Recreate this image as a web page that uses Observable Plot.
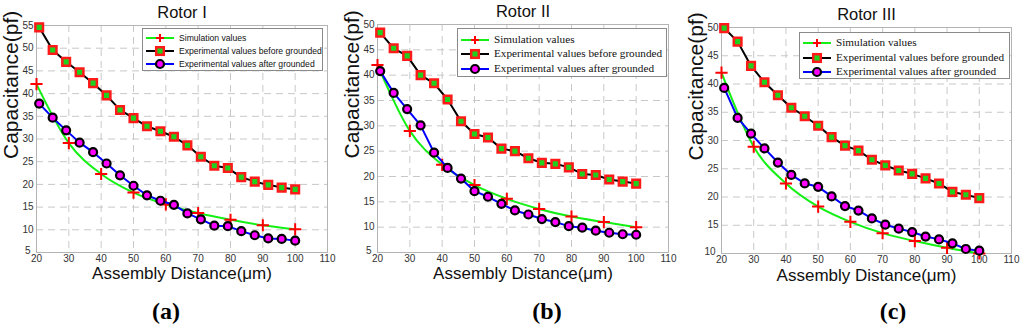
<!DOCTYPE html>
<html><head><meta charset="utf-8">
<script src="https://cdn.jsdelivr.net/npm/d3@7"></script>
<script src="https://cdn.jsdelivr.net/npm/@observablehq/plot@0.6"></script>
<style>
body{margin:0;background:#fff;}
#root{position:relative;width:1024px;height:331px;overflow:hidden;font-family:Arial,"Liberation Sans",sans-serif;}
.panel{position:absolute;top:0;}
.panel svg{overflow:visible;display:block;max-width:none;}
.legend{position:absolute;background:#fff;border:1px solid #8a8a8a;box-sizing:border-box;}
.legend .row{position:absolute;display:flex;align-items:center;white-space:nowrap;line-height:1;}
.legend .row svg{flex:none;display:block;}
.cap{position:absolute;font-family:"Liberation Serif","Times New Roman",serif;font-weight:bold;font-size:24px;transform:translate(-50%,-50%);line-height:1;}
</style></head>
<body><div id="root"></div>
<script>
// ---- data ----
const titles = ["Rotor I", "Rotor II", "Rotor III"];
const captions = ["(a)", "(b)", "(c)"];
const xLabel = "Assembly Distance(\u03bcm)";
const yLabel = "Capacitance(pf)";
const seriesNames = ["Simulation values", "Experimental values before grounded", "Experimental values after grounded"];
const xTicks = [20, 30, 40, 50, 60, 70, 80, 90, 100, 110];
const yTicksA = [5, 10, 15, 20, 25, 30, 35, 40, 45, 50, 55];
const yTicksB = [5, 10, 15, 20, 25, 30, 35, 40, 45, 50];
const yTicksC = [10, 15, 20, 25, 30, 35, 40, 45, 50];

const xSim = [20, 30, 40, 50, 60, 70, 80, 90, 100];
const xExp = [20.83, 25, 29.17, 33.33, 37.5, 41.67, 45.83, 50, 54.17, 58.33, 62.5, 66.67, 70.83, 75, 79.17, 83.33, 87.5, 91.67, 95.83, 100];

const simA = [42.1, 29.1, 22.3, 18.2, 15.6, 13.7, 12.2, 11.0, 10.1];
const beforeA = [54.6, 49.6, 47.0, 44.7, 42.3, 39.6, 36.4, 34.6, 32.8, 31.7, 30.5, 28.6, 26.1, 24.1, 23.6, 21.6, 20.6, 19.9, 19.3, 18.9];
const afterA = [37.8, 34.7, 31.9, 29.2, 27.1, 24.6, 22.0, 19.7, 17.6, 16.4, 15.5, 13.6, 12.3, 10.9, 10.8, 9.7, 8.8, 8.1, 8.0, 7.6];

const simB = [42.0, 29.0, 22.3, 18.3, 15.6, 13.6, 12.1, 11.0, 10.0];
const beforeB = [48.4, 45.3, 43.8, 40.0, 38.4, 35.2, 30.9, 28.4, 27.7, 25.5, 25.0, 23.6, 22.7, 22.5, 21.8, 20.5, 20.3, 19.4, 19.0, 18.6];
const afterB = [40.8, 36.5, 33.3, 30.1, 24.7, 21.7, 19.6, 17.1, 16.0, 14.6, 13.3, 12.5, 11.6, 11.0, 10.2, 9.9, 9.3, 8.9, 8.6, 8.5];

const simC = [42.0, 28.9, 22.4, 18.3, 15.6, 13.6, 12.2, 11.0, 10.0];
const beforeC = [49.9, 47.5, 43.2, 40.3, 38.0, 35.8, 34.3, 32.6, 30.6, 29.1, 28.2, 26.6, 25.6, 24.7, 24.1, 23.3, 22.4, 20.9, 20.4, 19.8];
const afterC = [39.3, 34.0, 31.2, 28.6, 26.1, 23.9, 22.4, 21.8, 20.1, 18.4, 17.6, 16.2, 15.1, 14.4, 13.8, 13.0, 12.5, 11.8, 10.8, 10.5];

// ---- layout / styles ----
const colors = {sim: "#14f014", simMark: "#ff0000", before: "#000000", beforeStroke: "#ff1a1a", beforeFill: "#1ed21e", after: "#0000ff", afterStroke: "#000000", afterFill: "#ff00ff"};
const panels = [
  {left: 0, width: 340, mt: 25, mb: 38, ml: 36, mr: 13, yDomain: [5, 55], yTicks: yTicksA, sim: simA, before: beforeA, after: afterA, xlDy: 21, tDy: -13,
   legend: {left: 142, top: 28, width: 181, height: 43, rows: [9, 22, 35], font: "Arial, 'Liberation Sans', sans-serif", size: 8.6, textLeft: 36},
   cap: {x: 166, y: 311}},
  {left: 340, width: 340, mt: 24, mb: 38, ml: 37, mr: 12, yDomain: [5, 50], yTicks: yTicksB, sim: simB, before: beforeB, after: afterB, xlDy: 21, tDy: -13,
   legend: {left: 457, top: 28, width: 210, height: 49, rows: [11, 25, 40], font: "'Liberation Serif', 'Times New Roman', serif", size: 11.2, textLeft: 36},
   cap: {x: 547, y: 311}},
  {left: 680, width: 344, mt: 27, mb: 37, ml: 41, mr: 13, yDomain: [10, 50], yTicks: yTicksC, sim: simC, before: beforeC, after: afterC, xlDy: 22, tDy: -13,
   legend: {left: 799, top: 32, width: 211, height: 47, rows: [10, 25, 39], font: "'Liberation Serif', 'Times New Roman', serif", size: 11.2, textLeft: 36},
   cap: {x: 893, y: 311}}
];

const root = document.getElementById("root");

panels.forEach((p, i) => {
  const simData = xSim.map((x, k) => ({x, y: p.sim[k]}));
  const befData = xExp.map((x, k) => ({x, y: p.before[k]}));
  const aftData = xExp.map((x, k) => ({x, y: p.after[k]}));
  const chart = Plot.plot({
    width: p.width,
    height: 290,
    marginTop: p.mt, marginBottom: p.mb, marginLeft: p.ml, marginRight: p.mr,
    style: {fontFamily: "Arial, 'Liberation Sans', sans-serif", fontSize: "10px", color: "#333", background: "transparent"},
    x: {domain: [20, 110], ticks: xTicks, tickSize: 0, tickPadding: 2, label: null},
    y: {domain: p.yDomain, ticks: p.yTicks, tickSize: 0, tickPadding: 3, label: null},
    marks: [
      Plot.gridX(xTicks, {stroke: "#c8c8c8", strokeOpacity: 1, strokeDasharray: "7,5"}),
      Plot.gridY(p.yTicks, {stroke: "#c8c8c8", strokeOpacity: 1, strokeDasharray: "7,5"}),
      Plot.frame({stroke: "#b4b4b4"}),
      Plot.axisX(xTicks, {tickSize: 0, tickPadding: 2, fill: "#333", fontSize: 10}),
      Plot.axisY(p.yTicks.slice(1), {tickSize: 0, tickPadding: 3, fill: "#333", fontSize: 10}),
      Plot.axisY(p.yTicks.slice(0, 1), {tickSize: 0, tickPadding: 6, dy: -2, fill: "#333", fontSize: 10}),
      Plot.line(simData, {x: "x", y: "y", stroke: colors.sim, strokeWidth: 2, curve: "monotone-x"}),
      Plot.dot(simData, {x: "x", y: "y", symbol: "plus", stroke: colors.simMark, strokeWidth: 2, r: 4}),
      Plot.line(befData, {x: "x", y: "y", stroke: colors.before, strokeWidth: 2}),
      Plot.dot(befData, {x: "x", y: "y", symbol: "square", stroke: colors.beforeStroke, fill: colors.beforeFill, strokeWidth: 2.5, r: 4.3}),
      Plot.line(aftData, {x: "x", y: "y", stroke: colors.after, strokeWidth: 2}),
      Plot.dot(aftData, {x: "x", y: "y", symbol: "circle", stroke: colors.afterStroke, fill: colors.afterFill, strokeWidth: 2.2, r: 4}),
      Plot.text([titles[i]], {frameAnchor: "top", lineAnchor: "middle", dy: p.tDy, fontSize: 16.5, fill: "#111"}),
      Plot.text([xLabel], {frameAnchor: "bottom", lineAnchor: "middle", dy: p.xlDy, fontSize: 17, fill: "#111"}),
      Plot.text([yLabel], {frameAnchor: "left", lineAnchor: "middle", dx: -25, dy: 20, rotate: -90, fontSize: 21, fill: "#111"})
    ]
  });
  const holder = document.createElement("div");
  holder.className = "panel";
  holder.style.left = p.left + "px";
  holder.style.width = p.width + "px";
  holder.appendChild(chart);
  root.appendChild(holder);

  // legend
  const lg = p.legend;
  const box = document.createElement("div");
  box.className = "legend";
  Object.assign(box.style, {left: lg.left + "px", top: lg.top + "px", width: lg.width + "px", height: lg.height + "px", fontFamily: lg.font, fontSize: lg.size + "px", color: "#111"});
  const swatches = [
    `<line x1="1" y1="6" x2="29" y2="6" stroke="${colors.sim}" stroke-width="2"/><path d="M15,2V10M11,6H19" stroke="${colors.simMark}" stroke-width="2"/>`,
    `<line x1="1" y1="6" x2="29" y2="6" stroke="${colors.before}" stroke-width="2"/><rect x="11.2" y="2.2" width="7.6" height="7.6" stroke="${colors.beforeStroke}" stroke-width="2.5" fill="${colors.beforeFill}"/>`,
    `<line x1="1" y1="6" x2="29" y2="6" stroke="${colors.after}" stroke-width="2"/><circle cx="15" cy="6" r="4" stroke="${colors.afterStroke}" stroke-width="2.2" fill="${colors.afterFill}"/>`
  ];
  seriesNames.forEach((name, k) => {
    const row = document.createElement("div");
    row.className = "row";
    row.style.left = "2px";
    row.style.top = (lg.rows[k] - 6) + "px";
    row.innerHTML = `<svg width="30" height="12" style="margin-right:${lg.textLeft - 32}px">${swatches[k]}</svg><span>${name}</span>`;
    box.appendChild(row);
  });
  root.appendChild(box);

  const cap = document.createElement("div");
  cap.className = "cap";
  cap.style.left = p.cap.x + "px";
  cap.style.top = p.cap.y + "px";
  cap.textContent = captions[i];
  root.appendChild(cap);
});
</script>
</body></html>
